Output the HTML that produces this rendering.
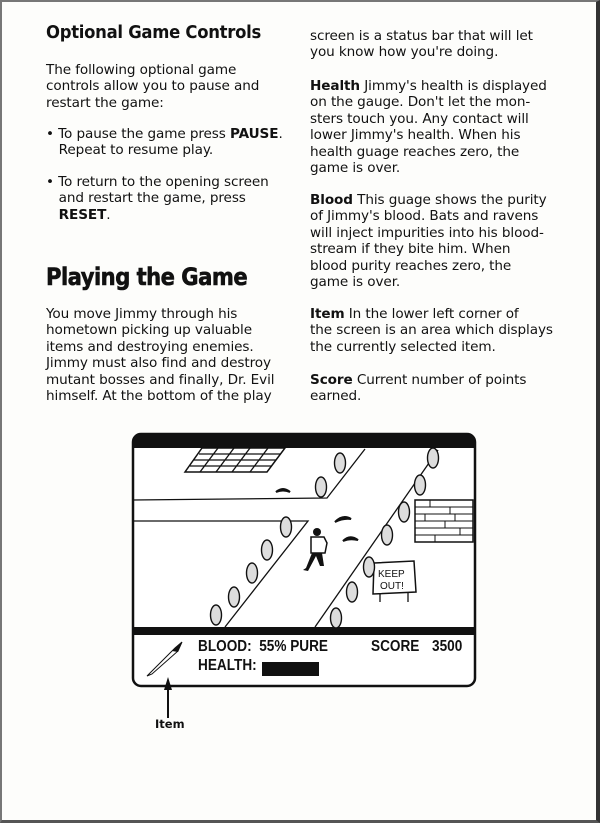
<!DOCTYPE html>
<html><head><meta charset="utf-8"><style>
html,body{margin:0;padding:0;background:#fff}
#pg{position:relative;width:600px;height:823px;overflow:hidden;background:#fdfdfb;font-family:"DejaVu Sans","Liberation Sans",sans-serif;color:#111}
.t{position:absolute;font-size:13.6px;line-height:16.4px;white-space:pre;letter-spacing:-0.1px}
.h{position:absolute;font-family:"DejaVu Sans","Liberation Sans",sans-serif;font-weight:bold;white-space:pre}
b{font-weight:bold}
.s{position:absolute;font-family:"Liberation Sans",sans-serif;font-weight:bold;font-size:16px;transform:scaleX(0.85);transform-origin:left;white-space:pre}
</style></head><body><div id="pg">
<div style="position:absolute;left:0;top:0;width:600px;height:823px;box-sizing:border-box;border:2px solid #777;border-right:4px solid #333;border-bottom:3px solid #555"></div>
<div class="h" style="left:46px;top:23px;font-size:17.5px;letter-spacing:-0.3px;transform:scaleX(0.94);transform-origin:left">Optional Game Controls</div>
<div class="t" style="left:46px;top:62px">The following optional game
controls allow you to pause and
restart the game:</div>
<div class="t" style="left:46px;top:126px">• To pause the game press <b>PAUSE</b>.
   Repeat to resume play.</div>
<div class="t" style="left:46px;top:174px">• To return to the opening screen
   and restart the game, press
   <b>RESET</b>.</div>
<div class="h" style="left:46px;top:263px;font-size:24px;letter-spacing:-0.6px;transform:scaleX(0.88);transform-origin:left;-webkit-text-stroke:0.6px #111">Playing the Game</div>
<div class="t" style="left:46px;top:306px">You move Jimmy through his
hometown picking up valuable
items and destroying enemies.
Jimmy must also find and destroy
mutant bosses and finally, Dr. Evil
himself. At the bottom of the play</div>
<div class="t" style="left:310px;top:28px">screen is a status bar that will let
you know how you're doing.</div>
<div class="t" style="left:310px;top:78px"><b>Health</b> Jimmy's health is displayed
on the gauge. Don't let the mon-
sters touch you. Any contact will
lower Jimmy's health. When his
health guage reaches zero, the
game is over.</div>
<div class="t" style="left:310px;top:192px"><b>Blood</b> This guage shows the purity
of Jimmy's blood. Bats and ravens
will inject impurities into his blood-
stream if they bite him. When
blood purity reaches zero, the
game is over.</div>
<div class="t" style="left:310px;top:306px"><b>Item</b> In the lower left corner of
the screen is an area which displays
the currently selected item.</div>
<div class="t" style="left:310px;top:372px"><b>Score</b> Current number of points
earned.</div>

<svg style="position:absolute;left:0;top:0" width="600" height="823">
<rect x="133" y="434" width="342" height="252" rx="8" fill="#fff" stroke="#111" stroke-width="2.5"/>
<path d="M133,448 V442 Q133,434 141,434 H467 Q475,434 475,442 V448 Z" fill="#111"/>
<rect x="133" y="627" width="342" height="8" fill="#111"/>
<g stroke="#111" stroke-width="1.3" fill="none">
<polyline points="133,500 327,498 365,449"/>
<polyline points="133,521 308,521 225,627"/>
<line x1="315" y1="627" x2="438" y2="450"/>
<polygon points="185,472 267,472 285,448 202,448" stroke-width="1.5"/>
<line x1="190" y1="466" x2="272" y2="466"/><line x1="194" y1="460" x2="276" y2="460"/><line x1="199" y1="454" x2="281" y2="454"/>
<line x1="200" y1="472" x2="218" y2="448"/><line x1="216" y1="472" x2="234" y2="448"/><line x1="232" y1="472" x2="250" y2="448"/><line x1="250" y1="472" x2="268" y2="448"/>
<rect x="415" y="500" width="58" height="42" stroke-width="1.5"/>
<g stroke-width="1"><line x1="415" y1="507" x2="473" y2="507"/><line x1="415" y1="514" x2="473" y2="514"/><line x1="415" y1="521" x2="473" y2="521"/><line x1="415" y1="528" x2="473" y2="528"/><line x1="415" y1="535" x2="473" y2="535"/>
<line x1="430" y1="500" x2="430" y2="507"/><line x1="450" y1="507" x2="450" y2="514"/><line x1="425" y1="514" x2="425" y2="521"/><line x1="445" y1="521" x2="445" y2="528"/><line x1="460" y1="528" x2="460" y2="535"/><line x1="435" y1="535" x2="435" y2="542"/><line x1="455" y1="514" x2="455" y2="521"/></g>
<path d="M374,563 L414,561 L416,592 L373,594 Z" stroke-width="1.5"/>
<line x1="380" y1="594" x2="380" y2="602"/><line x1="408" y1="593" x2="408" y2="602"/>
</g>
<text x="378" y="577" font-family="Liberation Sans,sans-serif" font-size="10" fill="#111">KEEP</text>
<text x="380" y="589" font-family="Liberation Sans,sans-serif" font-size="10" fill="#111">OUT!</text>
<g fill="#ddd" stroke="#111" stroke-width="1.4">
<ellipse cx="340" cy="463" rx="5.5" ry="10"/><ellipse cx="321" cy="487" rx="5.5" ry="10"/><ellipse cx="286" cy="527" rx="5.5" ry="10"/><ellipse cx="267" cy="550" rx="5.5" ry="10"/><ellipse cx="252" cy="573" rx="5.5" ry="10"/><ellipse cx="234" cy="597" rx="5.5" ry="10"/><ellipse cx="216" cy="615" rx="5.5" ry="10"/>
<ellipse cx="433" cy="458" rx="5.5" ry="10"/><ellipse cx="420" cy="485" rx="5.5" ry="10"/><ellipse cx="404" cy="512" rx="5.5" ry="10"/><ellipse cx="387" cy="535" rx="5.5" ry="10"/><ellipse cx="369" cy="567" rx="5.5" ry="10"/><ellipse cx="352" cy="592" rx="5.5" ry="10"/><ellipse cx="336" cy="618" rx="5.5" ry="10"/>
</g>
<g fill="#111">
<circle cx="317" cy="532" r="4"/>
<path d="M311,537 L324,537 L327,543 L325,553 L311,553 Z" fill="#fff" stroke="#111" stroke-width="1.5"/>
<path d="M312,553 L306,568 L303,570 L308,571 L316,556 L320,566 L324,566 L322,553 Z"/>
<path d="M276,492 Q283,486 290,492 Q283,489 276,492Z" stroke="#111" stroke-width="2"/>
<path d="M335,522 Q343,514 351,519 Q343,518 335,522Z" stroke="#111" stroke-width="2"/>
<path d="M343,541 Q350,534 358,540 Q350,538 343,541Z" stroke="#111" stroke-width="2"/>
<rect x="262" y="662" width="57" height="14"/>
<path d="M147,676 L175,648 L182,642 L178,651 L152,674 Z" fill="#fff" stroke="#111" stroke-width="1"/>
<path d="M172,651 L182,642 L178,652 Z"/>
<line x1="168" y1="690" x2="168" y2="718" stroke="#111" stroke-width="2"/>
<path d="M168,677 L164,690 L172,690 Z"/>
</g>
</svg>
<div class="s" style="left:198px;top:638px">BLOOD:  55% PURE</div>
<div class="s" style="left:371px;top:638px">SCORE</div>
<div class="s" style="left:432px;top:638px">3500</div>
<div class="s" style="left:198px;top:657px">HEALTH:</div>
<div class="h" style="left:155px;top:717px;font-size:11.5px">Item</div>
</div></body></html>
